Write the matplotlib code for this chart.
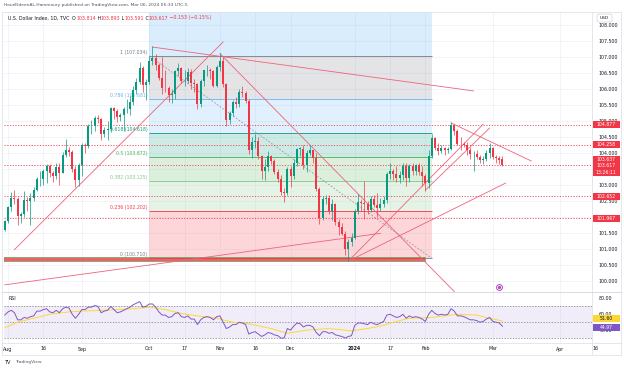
import numpy as np
import pandas as pd
import matplotlib
matplotlib.use("Agg")
import matplotlib.pyplot as plt
from matplotlib.patches import Rectangle, FancyBboxPatch
from matplotlib.lines import Line2D
from matplotlib.transforms import blended_transform_factory

plt.rcParams['font.family'] = ['DejaVu Sans']

# U.S. Dollar Index (TVC), daily bars from 2023-07-31 to 2024-03-06
first_day = '2023-07-31'
closed_days = ['2023-12-25', '2024-01-01']

opens = [101.60, 101.86, 102.30, 102.59, 102.55, 102.02, 102.08, 102.53, 102.49, 102.60,
         102.85, 103.19, 103.20, 103.43, 103.58, 103.38, 103.29, 103.55, 103.38, 103.95,
         104.09, 104.04, 103.50, 103.15, 103.62, 104.24, 104.23, 104.83, 104.85, 105.08,
         105.05, 104.58, 104.71, 104.75, 105.41, 105.32, 105.11, 105.19, 105.37, 105.38,
         105.58, 105.98, 106.22, 106.66, 106.13, 106.22, 106.89, 106.98, 106.76, 106.34,
         106.04, 106.03, 105.80, 105.83, 106.57, 106.65, 106.25, 106.25, 106.54, 106.18,
         106.16, 105.53, 106.24, 106.58, 106.58, 106.56, 106.10, 106.69, 106.87, 106.15,
         105.02, 105.24, 105.59, 105.54, 105.92, 105.87, 105.64, 104.08, 104.33, 104.37,
         103.92, 103.43, 103.56, 103.92, 103.76, 103.40, 103.20, 102.79, 102.76, 103.50,
         103.27, 103.69, 104.13, 104.13, 103.63, 104.00, 104.08, 103.83, 102.87, 101.96,
         102.56, 102.58, 102.18, 102.41, 101.84, 101.70, 101.47, 100.99, 101.23, 101.33,
         102.20, 102.47, 102.45, 102.41, 102.23, 102.56, 102.36, 102.28, 102.40, 102.52,
         103.35, 103.43, 103.34, 103.22, 103.32, 103.60, 103.23, 103.58, 103.45, 103.61,
         103.41, 103.27, 103.07, 103.92, 104.47, 104.15, 104.06, 104.15, 104.09, 104.14,
         104.86, 104.70, 104.29, 104.28, 104.25, 104.09, 103.96, 103.96, 103.88, 103.79,
         103.82, 104.00, 104.15, 103.87, 103.85, 103.814]
highs = [101.92, 102.35, 102.78, 102.84, 102.61, 102.15, 102.80, 102.62, 102.75, 102.95,
         103.25, 103.44, 103.50, 103.65, 103.65, 103.45, 103.70, 103.70, 104.04, 104.44,
         104.20, 104.10, 103.60, 103.70, 104.30, 104.30, 104.90, 105.03, 105.16, 105.20,
         105.10, 104.80, 105.00, 105.43, 105.45, 105.38, 105.25, 105.45, 105.70, 105.78,
         106.10, 106.33, 106.84, 106.72, 106.30, 107.04, 107.35, 107.10, 106.80, 107.00,
         106.60, 106.10, 106.00, 106.60, 106.80, 106.70, 106.60, 106.65, 106.62, 106.30,
         106.20, 106.30, 106.60, 106.75, 106.65, 106.60, 106.75, 107.11, 107.00, 106.20,
         105.30, 105.65, 105.75, 106.00, 106.10, 105.95, 105.70, 104.50, 104.60, 104.50,
         103.95, 103.80, 104.05, 103.95, 103.80, 103.50, 103.30, 102.90, 103.55, 103.60,
         103.80, 104.15, 104.20, 104.25, 104.10, 104.25, 104.10, 104.00, 102.95, 102.65,
         102.70, 102.70, 102.55, 102.45, 101.95, 101.80, 101.55, 101.30, 101.50, 102.25,
         102.73, 102.55, 103.11, 102.50, 102.65, 102.70, 102.75, 102.60, 102.65, 103.40,
         103.70, 103.50, 103.60, 103.45, 103.70, 103.70, 103.65, 103.70, 103.65, 103.70,
         103.60, 103.35, 104.10, 104.60, 104.50, 104.30, 104.25, 104.20, 104.20, 104.97,
         104.90, 104.75, 104.50, 104.35, 104.35, 104.20, 104.05, 104.10, 103.95, 103.90,
         104.10, 104.30, 104.20, 103.95, 103.90, 103.893]
lows = [101.55, 101.80, 102.20, 102.40, 101.74, 101.81, 102.00, 102.20, 101.75, 102.50,
        102.80, 102.98, 103.00, 103.05, 103.25, 103.10, 103.20, 103.00, 103.36, 103.87,
        103.91, 103.40, 102.93, 102.96, 103.27, 104.00, 104.15, 104.60, 104.70, 104.95,
        104.42, 104.50, 104.40, 104.65, 105.06, 104.98, 105.00, 104.70, 105.25, 105.20,
        105.50, 105.85, 106.17, 105.90, 105.67, 106.15, 106.75, 106.60, 106.28, 105.85,
        105.90, 105.60, 105.55, 105.70, 106.40, 106.20, 106.10, 106.20, 106.00, 105.90,
        105.36, 105.45, 106.10, 106.40, 106.30, 106.05, 106.05, 106.55, 106.05, 104.85,
        104.90, 105.15, 105.40, 105.45, 105.75, 105.55, 103.98, 103.85, 104.15, 103.80,
        103.20, 103.17, 103.45, 103.65, 103.33, 103.10, 102.70, 102.46, 102.70, 102.95,
        103.20, 103.60, 103.90, 103.50, 103.40, 103.95, 103.70, 102.80, 101.77, 101.90,
        102.40, 102.10, 101.90, 101.75, 101.45, 101.45, 100.82, 100.62, 101.10, 101.30,
        102.10, 102.20, 101.95, 102.10, 102.15, 102.30, 101.99, 102.20, 102.30, 102.45,
        103.20, 103.15, 103.10, 103.05, 103.15, 102.96, 103.10, 103.30, 103.30, 103.30,
        102.97, 102.80, 102.90, 103.85, 104.10, 103.95, 104.00, 103.95, 104.00, 104.10,
        104.55, 104.25, 104.10, 104.20, 103.95, 103.80, 103.44, 103.80, 103.70, 103.65,
        103.75, 103.85, 103.80, 103.70, 103.65, 103.591]
closes = [101.86, 102.30, 102.59, 102.55, 102.02, 102.08, 102.53, 102.49, 102.60, 102.85,
          103.19, 103.20, 103.43, 103.58, 103.38, 103.29, 103.55, 103.38, 103.95, 104.09,
          104.04, 103.50, 103.15, 103.62, 104.24, 104.23, 104.83, 104.85, 105.08, 105.05,
          104.58, 104.71, 104.75, 105.41, 105.32, 105.11, 105.19, 105.37, 105.38, 105.58,
          105.98, 106.22, 106.66, 106.13, 106.22, 106.89, 106.98, 106.76, 106.34, 106.04,
          106.03, 105.80, 105.83, 106.57, 106.65, 106.25, 106.25, 106.54, 106.18, 106.16,
          105.53, 106.24, 106.58, 106.58, 106.56, 106.10, 106.69, 106.87, 106.15, 105.02,
          105.24, 105.59, 105.54, 105.92, 105.87, 105.64, 104.08, 104.33, 104.37, 103.92,
          103.43, 103.56, 103.92, 103.76, 103.40, 103.20, 102.79, 102.76, 103.50, 103.27,
          103.69, 104.13, 104.13, 103.63, 104.00, 104.08, 103.83, 102.87, 101.96, 102.56,
          102.58, 102.18, 102.41, 101.84, 101.70, 101.47, 100.99, 101.23, 101.33, 102.20,
          102.47, 102.45, 102.41, 102.23, 102.56, 102.36, 102.28, 102.40, 102.52, 103.35,
          103.43, 103.34, 103.22, 103.32, 103.60, 103.23, 103.58, 103.45, 103.61, 103.41,
          103.27, 103.07, 103.92, 104.47, 104.15, 104.06, 104.15, 104.09, 104.14, 104.86,
          104.70, 104.29, 104.28, 104.25, 104.09, 103.96, 103.96, 103.88, 103.79, 103.82,
          104.00, 104.15, 103.87, 103.85, 103.77, 103.617]

rsi = [59, 63, 65, 62, 53, 53, 56, 55, 57, 58,
       64, 64, 66, 67, 63, 62, 65, 62, 67, 69,
       68, 60, 55, 60, 66, 66, 69, 69, 71, 70,
       62, 64, 65, 70, 66, 62, 63, 65, 67, 69,
       72, 74, 76, 69, 70, 73, 73, 69, 63, 59,
       59, 56, 57, 61, 62, 57, 56, 58, 54, 54,
       47, 53, 56, 57, 56, 53, 57, 58, 50, 42,
       44, 47, 47, 50, 49, 47, 35, 37, 38, 35,
       32, 34, 37, 36, 34, 33, 30, 30, 42, 40,
       45, 49, 48, 44, 46, 46, 44, 37, 33, 38,
       38, 36, 37, 34, 33, 32, 30, 32, 33, 46,
       49, 49, 48, 47, 50, 48, 47, 49, 51, 59,
       60, 58, 56, 57, 60, 55, 58, 56, 57, 56,
       54, 51, 60, 65, 61, 59, 60, 59, 60, 67,
       64, 58, 58, 57, 55, 53, 53, 52, 50, 51,
       54, 56, 51, 50, 49, 44.97]
rsi_ma_bars = [0, 4, 9, 14, 20, 24, 30, 40, 45, 50, 55, 60, 66, 71, 76, 83, 88, 94,
               101, 108, 113, 118, 121, 126, 133, 141, 147, 151, 155]
rsi_ma = [43, 50, 55, 60, 63, 64, 65, 67, 69, 66, 61, 58, 55, 50, 48, 42, 36, 40,
          42, 39, 42, 46, 50, 55, 56, 60, 59, 55, 51.6]

fib_ratios = ['0', '0.236', '0.382', '0.5', '0.618', '0.786', '1']
fib_prices = [100.710, 102.202, 103.125, 103.872, 104.618, 105.681, 107.034]
fib_colors = ['#787b86', '#f23645', '#81c784', '#4caf50', '#089981', '#64b5f6', '#787b86']
fib_start, fib_end = '2023-10-02', '2024-02-05'

level_prices = [104.877, 104.258, 103.637, 102.652, 101.967]
band = ('2023-07-28', '2024-02-01', 100.63, 100.76)

trend_lines = [
    ('2023-10-03', 107.31, '2024-02-22', 105.94),
    ('2023-08-03', 100.98, '2023-11-02', 107.47),
    ('2023-11-01', 107.11, '2024-02-14', 99.67),
    ('2023-12-28', 100.62, '2024-02-27', 104.90),
    ('2024-02-01', 102.84, '2024-02-29', 104.78),
    ('2023-12-28', 100.62, '2024-03-07', 103.06),
    ('2024-02-13', 104.94, '2024-03-19', 103.75),
    ('2023-07-31', 99.88, '2024-01-12', 101.49),
]

price_ticks = [100.0, 100.5, 101.0, 101.5, 102.0, 102.5, 103.0, 103.5, 104.0,
               104.5, 105.0, 105.5, 106.0, 106.5, 107.0, 107.5, 108.0]
hidden_ticks = [102.0, 103.5]  # covered by the price tags
rsi_ticks = [40, 60, 80]
time_ticks = [('2023-08-01', 'Aug'), ('2023-08-16', '16'), ('2023-09-01', 'Sep'),
              ('2023-10-02', 'Oct'), ('2023-10-17', '17'), ('2023-11-01', 'Nov'),
              ('2023-11-16', '16'), ('2023-12-01', 'Dec'), ('2024-01-02', '2024'),
              ('2024-01-17', '17'), ('2024-02-01', 'Feb'), ('2024-03-01', 'Mar'),
              ('2024-04-01', 'Apr'), ('2024-04-16', '16')]
event_day = '2024-03-05'

cal = pd.bdate_range('2023-07-24', '2024-06-28')
cal = cal[~cal.isin(pd.to_datetime(closed_days))]
base = cal.get_loc(pd.Timestamp(first_day))


def bar(d):
    return cal.get_loc(pd.Timestamp(d)) - base


W, H = 624, 368
fig = plt.figure(figsize=(W / 100, H / 100), dpi=100)
fig.patch.set_facecolor('white')


def box(l, t, r, b):
    return [l / W, 1 - b / H, (r - l) / W, (b - t) / H]


ax = fig.add_axes(box(4, 12, 592, 291.5))
rax = fig.add_axes(box(4, 292.5, 592, 343))
for a in (ax, rax):
    for s in a.spines.values():
        s.set_visible(False)
    a.set_xlim(-0.25, 182.9)
    a.set_xticks([])
    a.yaxis.tick_right()
    a.tick_params(axis='y', length=0, pad=5, labelsize=3.4, colors='#131722')
    for d, _ in time_ticks:
        a.axvline(bar(d), color='#f0f3fa', lw=0.6, zorder=0)
ax.set_ylim(99.672, 108.406)
rax.set_ylim(23.75, 87.5)
ax.set_yticks(price_ticks)
ax.set_yticklabels(['' if p in hidden_ticks else f'{p:.3f}' for p in price_ticks])
rax.set_yticks(rsi_ticks)
rax.set_yticklabels([f'{v:.2f}' for v in rsi_ticks])
for p in price_ticks:
    ax.axhline(p, color='#f0f3fa', lw=0.6, zorder=0)

# fib retracement
fx0, fx1 = bar(fib_start), bar(fib_end)
ax.fill_between([fx0, fx1], fib_prices[-1], 108.406, color='#2196f3', alpha=0.17, lw=0, zorder=1)
for k in range(1, len(fib_prices)):
    ax.fill_between([fx0, fx1], fib_prices[k - 1], fib_prices[k], color=fib_colors[k],
                    alpha=0.2, lw=0, zorder=1)
for r, p, c in zip(fib_ratios, fib_prices, fib_colors):
    ax.hlines(p, fx0, fx1, color=c, lw=0.6, zorder=2)
    ax.annotate(f'{r} ({p:.3f})', xy=(fx0, p), xytext=(-2, 3.5), textcoords='offset pixels',
                ha='right', va='center', fontsize=3.3, color=c)
ax.plot([fx0, fx1], [fib_prices[-1], fib_prices[0]], color='#9598a1', lw=0.6,
        ls=(0, (2, 2)), zorder=2)

# support band
bx0, bx1 = bar(band[0]), bar(band[1])
ax.add_patch(Rectangle((bx0, band[2]), bx1 - bx0, band[3] - band[2], fc='#f23645', alpha=0.8,
                       ec='#4caf50', lw=0.6, zorder=3))

for p in level_prices:
    ax.axhline(p, color='#f23645', lw=0.7, ls=(0, (1.2, 1.6)), alpha=0.85, zorder=2)

for d1, p1, d2, p2 in trend_lines:
    ax.plot([bar(d1), bar(d2)], [p1, p2], color='#f0627a', lw=0.6, zorder=4)

# candles
x = np.arange(len(closes))
o = np.array(opens)
c = np.array(closes)
up = c >= o
cols = np.where(up, '#089981', '#f23645')
ax.vlines(x, lows, highs, colors=cols, lw=0.5, zorder=5)
ax.bar(x, np.maximum(np.abs(c - o), 0.012), bottom=np.minimum(o, c), width=0.62,
       color=cols, lw=0, zorder=6)

trans = blended_transform_factory(ax.transData, ax.transAxes)
ax.plot(bar(event_day), 0.0145, 'o', ms=4.2, mfc='white', mec='#ab47bc', mew=0.7,
        transform=trans, clip_on=False, zorder=7)
ax.plot(bar(event_day), 0.0145, 'o', ms=1.3, color='#ab47bc', transform=trans,
        clip_on=False, zorder=8)

# RSI pane
rax.axhspan(30, 70, color='#7e57c2', alpha=0.1, lw=0, zorder=1)
for lvl in (70, 50, 30):
    rax.axhline(lvl, color='#787b86', lw=0.5, ls=(0, (2, 2)), zorder=2)
rax.plot(np.arange(len(rsi)), rsi, color='#7e57c2', lw=0.7, zorder=4)
rax.plot(rsi_ma_bars, rsi_ma, color='#fdd835', lw=0.7, zorder=3)
rax.text(0.008, 0.86, 'RSI', transform=rax.transAxes, fontsize=3.4, color='#131722')

fig.canvas.draw()


def tag(a, val, lines, fc, tc, dy=0.0):
    y = a.transData.transform((0, val))[1] + dy
    h = 7 * len(lines)
    top = y + 3.5
    fig.add_artist(Rectangle((593 / W, (top - h) / H), 27 / W, h / H, transform=fig.transFigure,
                             fc=fc, ec='none', zorder=5))
    for k, s in enumerate(lines):
        fig.text(606 / W, (y - 7 * k) / H, s, ha='center', va='center', fontsize=3.3,
                 color=tc, zorder=6)


tag(ax, 104.877, ['104.877'], '#f23645', 'white')
tag(ax, 104.258, ['104.258'], '#f23645', 'white')
tag(ax, 103.637, ['103.637'], '#f23645', 'white', dy=5.5)
tag(ax, 103.617, ['103.617', '13:26:11'], '#f23645', 'white', dy=-0.5)
tag(ax, 102.652, ['102.652'], '#f23645', 'white')
tag(ax, 101.967, ['101.967'], '#f23645', 'white')
tag(rax, rsi_ma[-1], ['51.60'], '#fdd835', '#131722', dy=2.5)
tag(rax, rsi[-1], ['44.97'], '#7e57c2', 'white', dy=-1.5)

fig.add_artist(FancyBboxPatch((597 / W, 1 - 22 / H), 15 / W, 8 / H, boxstyle='round,pad=0,rounding_size=0.004',
                              transform=fig.transFigure, fc='white', ec='#d1d4dc', lw=0.5, zorder=5))
fig.text(604.5 / W, 1 - 18 / H, 'USD', ha='center', va='center', fontsize=3.2, color='#131722', zorder=6)

for d, lab in time_ticks:
    xp = ax.transData.transform((bar(d), 0))[0]
    fig.text(xp / W, 1 - 349 / H, lab, ha='center', va='center', fontsize=3.4, color='#131722',
             weight='bold' if lab == '2024' else 'normal')

# frame and separators
fig.add_artist(Rectangle((2 / W, 1 - 355 / H), 619 / W, 343 / H, fill=False, ec='#e0e3eb', lw=0.6,
                         transform=fig.transFigure))
fig.add_artist(Line2D([592 / W, 592 / W], [1 - 355 / H, 1 - 12 / H], color='#e0e3eb', lw=0.6))
fig.add_artist(Line2D([2 / W, 621 / W], [1 - 292 / H, 1 - 292 / H], color='#d1d4dc', lw=0.6))
fig.add_artist(Line2D([2 / W, 621 / W], [1 - 343 / H, 1 - 343 / H], color='#e0e3eb', lw=0.6))

# header texts
renderer = fig.canvas.get_renderer()


def run_text(xp, yp, parts, size):
    for s, col in parts:
        t = fig.text(xp / W, 1 - yp / H, s, ha='left', va='center', fontsize=size, color=col)
        xp += t.get_window_extent(renderer=renderer).width


run_text(4, 5, [('HourEldeenAL-Hammoury published on TradingView.com, Mar 06, 2024 05:33 UTC-5', '#50535e')], 3.2)
red = '#f23645'
dark = '#131722'
run_text(8, 18, [('U.S. Dollar Index, 1D, TVC', dark), ('  O', dark), ('103.814', red),
                 (' H', dark), ('103.893', red), (' L', dark), ('103.591', red),
                 (' C', dark), ('103.617', red), (' \u22120.153 (\u22120.15%)', red)], 3.4)
run_text(4, 362, [('TV', dark)], 3.6)
run_text(15, 362, [('TradingView', '#50535e')], 3.2)

fig.savefig('out.png', dpi=100, facecolor='white')
